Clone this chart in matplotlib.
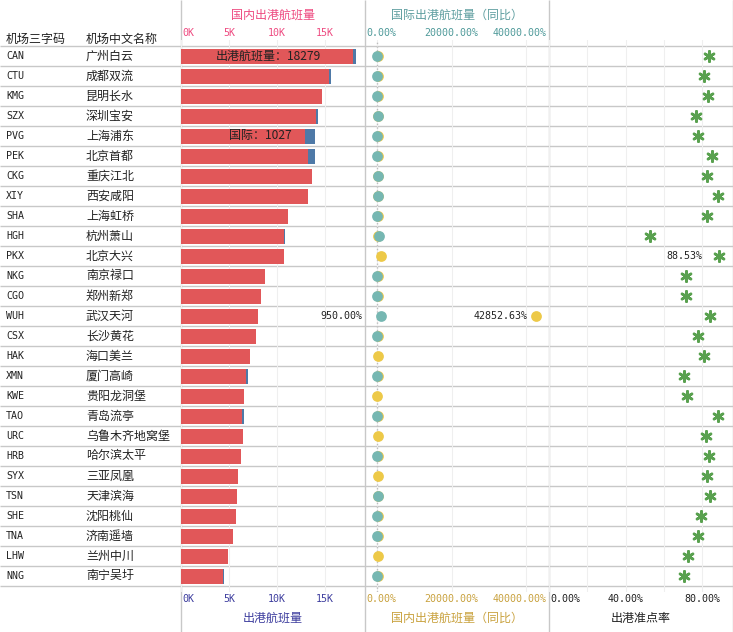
import numpy as np
import matplotlib
matplotlib.use('Agg')
import matplotlib.pyplot as plt
from matplotlib.transforms import ScaledTranslation

codes = ['CAN', 'CTU', 'KMG', 'SZX', 'PVG', 'PEK', 'CKG', 'XIY', 'SHA', 'HGH', 'PKX', 'NKG', 'CGO', 'WUH',
         'CSX', 'HAK', 'XMN', 'KWE', 'TAO', 'URC', 'HRB', 'SYX', 'TSN', 'SHE', 'TNA', 'LHW', 'NNG']
names = ['广州白云', '成都双流', '昆明长水', '深圳宝安', '上海浦东', '北京首都', '重庆江北', '西安咸阳', '上海虹桥',
         '杭州萧山', '北京大兴', '南京禄口', '郑州新郑', '武汉天河', '长沙黄花', '海口美兰', '厦门高崎', '贵阳龙洞堡',
         '青岛流亭', '乌鲁木齐地窝堡', '哈尔滨太平', '三亚凤凰', '天津滨海', '沈阳桃仙', '济南遥墙', '兰州中川', '南宁吴圩']

# flights
domestic = [17954, 15449, 14666, 14092, 12944, 13257, 13674, 13257, 11169, 10752, 10752, 8716, 8351, 8038,
            7829, 7203, 6785, 6576, 6367, 6472, 6263, 5950, 5846, 5741, 5428, 4906, 4436]
international = [325, 190, 50, 200, 1027, 730, 20, 20, 10, 100, 10, 50, 20, 10,
                 20, 10, 230, 5, 200, 5, 10, 10, 10, 10, 10, 5, 40]

# year on year, percent
intl_yoy = [-95, -90, -90, 200, -90, -90, 190, 190, -90, 370, np.nan, -90, -90, 950,
            -90, np.nan, -90, np.nan, -85, np.nan, -90, np.nan, 100, -90, -90, np.nan, -90]
dom_yoy = [150, 150, 150, 120, 150, 150, 100, 100, 150, 60, 920, 150, 150, 42852.63,
           150, 200, 150, -60, 150, 190, 150, 190, 100, 150, 150, 190, 150]

# on time rate, percent
on_time = [83.6, 80.9, 83.0, 76.8, 77.8, 85.1, 82.5, 88.3, 82.5, 52.7, 88.53, 71.5, 71.5, 84.1,
           77.8, 80.9, 70.5, 72.1, 88.3, 82.0, 83.5, 82.5, 84.1, 79.4, 77.8, 72.6, 70.5]

RED = '#e15759'
BLUE = '#4e79a7'
TEAL = '#76b7b2'
YELLOW = '#edc948'
GREEN = '#59a14f'
LINE = '#c8c8c8'
GRID = '#efefef'
CJK = 'Noto Sans CJK SC'
MONO = 'DejaVu Sans Mono'
TXT = 8.64
NUM = 7.2

W, H = 733, 632
TOP, BOTTOM = 40, 592
rows = np.arange(len(codes))

plt.rcParams['font.family'] = [CJK, 'DejaVu Sans']
fig = plt.figure(figsize=(W / 100, H / 100), dpi=100)


def panel(x0, x1):
    ax = fig.add_axes([x0 / W, 1 - BOTTOM / H, (x1 - x0) / W, (BOTTOM - TOP) / H])
    ax.set_ylim((BOTTOM - 56) / 20, (TOP - 56) / 20)
    ax.patch.set_alpha(0)
    for s in ax.spines.values():
        s.set_visible(False)
    ax.set_yticks([])
    ax.set_axisbelow(True)
    ax.grid(axis='x', color=GRID, lw=0.75)
    ax.tick_params(axis='x', length=0, pad=1.4, labelsize=NUM)
    return ax


def set_ticks(ax, ticks, labels, top_color, bottom_color, shifts):
    ax.tick_params(axis='x', labeltop=top_color is not None, labelbottom=True)
    ax.set_xticks(ticks, labels)
    for tick, dx in zip(ax.xaxis.get_major_ticks(), shifts):
        off = ScaledTranslation(dx / 100, 0, fig.dpi_scale_trans)
        tick.label1.set_color(bottom_color)
        tick.label1.set_family(MONO)
        tick.label1.set_transform(tick.label1.get_transform() + off)
        if top_color is not None:
            tick.label2.set_color(top_color)
            tick.label2.set_family(MONO)
            tick.label2.set_transform(tick.label2.get_transform() + off)


# background with table lines and the two text columns
bg = fig.add_axes([0, 0, 1, 1])
bg.set_xlim(0, W)
bg.set_ylim(H, 0)
bg.axis('off')
bg.hlines(46 + 20 * np.arange(len(codes) + 1), 0, W, color=LINE, lw=1)
bg.vlines([180.5, 364.5, 548.5, 732.5], 0, H, color=LINE, lw=1)
bg.text(6, 39, '机场三字码', fontsize=TXT, va='center', color='#222222')
bg.text(86, 39, '机场中文名称', fontsize=TXT, va='center', color='#222222')
for i in rows:
    bg.text(6, 56 + 20 * i, codes[i], fontsize=NUM, family=MONO, va='center', color='#222222')
    bg.text(86, 56 + 20 * i, names[i], fontsize=TXT, va='center', color='#222222')

# flights
ax1 = panel(181, 364)
ax1.barh(rows, domestic, height=0.75, color=RED)
ax1.barh(rows, international, left=domestic, height=0.75, color=BLUE)
ax1.set_xlim(0, 19102)
set_ticks(ax1, [0, 5000, 10000, 15000], ['0K', '5K', '10K', '15K'], '#ee4a80', '#3d3d9e', [7, 0, 0, 0])
ax1.text((domestic[0] + international[0]) / 2, rows[0], '出港航班量：18279', fontsize=TXT, ha='center', va='center', color='#222222')
ax1.text(11600, rows[4], '国际：1027', fontsize=TXT, ha='right', va='center', color='#222222')
ax1.set_title('国内出港航班量', fontsize=TXT, color='#ee4a80', pad=15)
ax1.set_xlabel('出港航班量', fontsize=TXT, color='#3d3d9e')
ax1.xaxis.set_label_coords(0.5, -0.036)

# year on year dots
ax2 = panel(365, 548)
ax2.axvline(0, color='#bdbdbd', lw=1, ls=':', zorder=1)
ax2.scatter(dom_yoy, rows, s=60, color=YELLOW, linewidths=0, zorder=3)
ax2.scatter(intl_yoy, rows, s=60, color=TEAL, linewidths=0, zorder=4)
ax2.set_xlim(-3315, 46004)
set_ticks(ax2, [0, 20000, 40000], ['0.00%', '20000.00%', '40000.00%'], '#4f9a9a', '#c9a23f', [4, 0, -6.5])
ax2.annotate('950.00%', (intl_yoy[13], rows[13]), xytext=(-18, 0), textcoords='offset pixels',
             ha='right', va='center', fontsize=NUM, family=MONO, color='#222222', annotation_clip=False)
ax2.annotate('42852.63%', (dom_yoy[13], rows[13]), xytext=(-9, 0), textcoords='offset pixels',
             ha='right', va='center', fontsize=NUM, family=MONO, color='#222222')
ax2.set_title('国际出港航班量（同比）', fontsize=TXT, color='#5f9ea0', pad=15)
ax2.set_xlabel('国内出港航班量（同比）', fontsize=TXT, color='#c9a23f')
ax2.xaxis.set_label_coords(0.5, -0.036)

# on time rate
ax3 = panel(549, 733)
ax3.scatter(on_time, rows, s=55, marker=(6, 2, 0), color=GREEN, linewidths=1.9, zorder=3)
ax3.set_xlim(0, 96.08)
set_ticks(ax3, [0, 20, 40, 60, 80], ['0.00%', '', '40.00%', '', '80.00%'], None, '#222222', [16, 0, 0, 0, 0])
ax3.annotate('88.53%', (on_time[10], rows[10]), xytext=(-16, 0), textcoords='offset pixels',
             ha='right', va='center', fontsize=NUM, family=MONO, color='#222222')
ax3.set_xlabel('出港准点率', fontsize=TXT, color='#222222')
ax3.xaxis.set_label_coords(0.5, -0.036)

fig.savefig('out.png', dpi=100)
